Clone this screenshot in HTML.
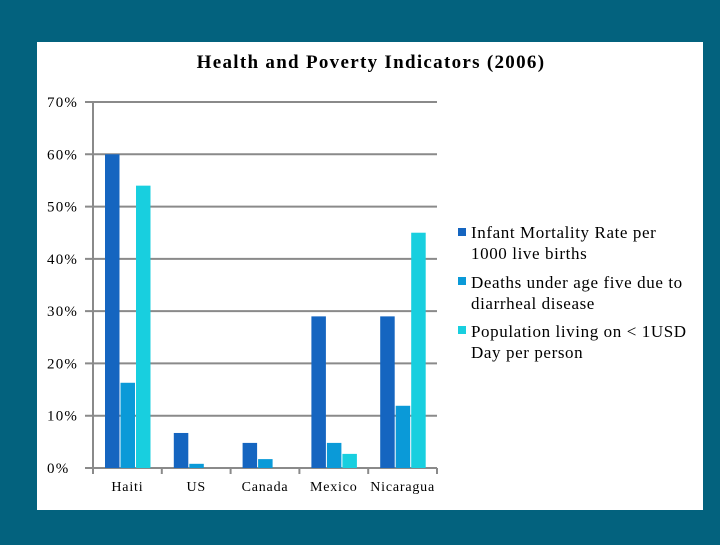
<!DOCTYPE html>
<html><head><meta charset="utf-8"><style>
body{margin:0;width:720px;height:540px;background:#03627e;overflow:hidden;font-family:"Liberation Serif",serif}
</style></head><body>
<svg width="720" height="540">
<rect x="37" y="42" width="666" height="468" fill="#fff"/>
<text x="371" y="68" text-anchor="middle" font-size="19" font-weight="bold" letter-spacing="1.3" fill="#000">Health and Poverty Indicators (2006)</text>
<g id="grid"></g><g id="bars"></g><g id="axes"></g>
<g font-size="17" letter-spacing="0.6" fill="#000">
<rect x="458" y="228" width="8" height="8" fill="#1565c0"/>
<text x="471" y="238"><tspan x="471">Infant Mortality Rate per</tspan><tspan x="471" dy="21">1000 live births</tspan></text>
<rect x="458" y="277" width="8" height="8" fill="#0a9ad8"/>
<text x="471" y="288"><tspan x="471">Deaths under age five due to</tspan><tspan x="471" dy="21">diarrheal disease</tspan></text>
<rect x="458" y="326" width="8" height="8" fill="#18cfdf"/>
<text x="471" y="337"><tspan x="471">Population living on &lt; 1USD</tspan><tspan x="471" dy="21">Day per person</tspan></text>
</g>
</svg>
<script>
const categories=["Haiti","US","Canada","Mexico","Nicaragua"];
const infant=[60,6.7,4.8,29,29];
const diarrheal=[16.3,0.8,1.7,4.8,11.9];
const poverty=[54,0,0,2.7,45];
const yTicks=[0,10,20,30,40,50,60,70];
const tickLabels=["0%","10%","20%","30%","40%","50%","60%","70%"];
const NS="http://www.w3.org/2000/svg";
const x0=93,x1=437,yb=468,yt=102,maxV=70;
const y=v=>yb-(yb-yt)*v/maxV;
const gw=(x1-x0)/categories.length;
function mk(t,a,p){const e=document.createElementNS(NS,t);for(const k in a)e.setAttribute(k,a[k]);document.getElementById(p).appendChild(e);return e;}
yTicks.forEach((v,i)=>{
 const l=mk("line",{x1:x0-8,x2:x1,y1:y(v),y2:y(v),stroke:"#8a8a8a","stroke-width":2},"grid");
 
 
 const t=mk("text",{x:47,y:y(v)+5,"font-size":15,"letter-spacing":1.2,fill:"#000"},"axes");
 t.textContent=tickLabels[i];
 
 
});
const series=[[infant,"#1565c0"],[diarrheal,"#0a9ad8"],[poverty,"#18cfdf"]];
categories.forEach((c,i)=>{
 const gx=x0+gw*i;
 series.forEach((s,j)=>{
  const v=s[0][i];if(v<=0)return;
  const r=mk("rect",{x:gx+12+j*15.5,y:y(v),width:14.5,height:yb-y(v),fill:s[1]},"bars");
  
  
 });
 const t=mk("text",{x:gx+gw/2,y:491,"text-anchor":"middle","font-size":14,"letter-spacing":0.8,fill:"#000"},"axes");
 t.textContent=c;
 
 
});
for(let i=0;i<=categories.length;i++){
 const l=mk("line",{x1:x0+gw*i,x2:x0+gw*i,y1:yb,y2:yb+6,stroke:"#8a8a8a","stroke-width":2},"axes");
 
 
}
const ax=mk("line",{x1:x0,x2:x0,y1:yt,y2:yb,stroke:"#8a8a8a","stroke-width":2},"axes");


</script>
</body></html>
